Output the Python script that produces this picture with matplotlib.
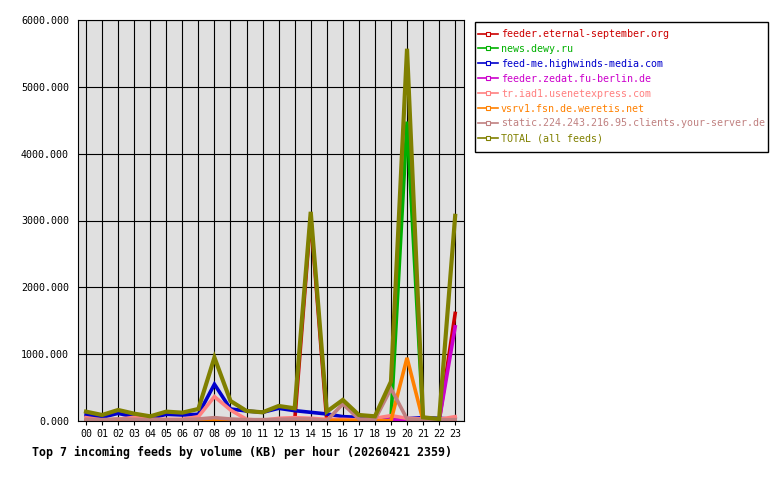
import matplotlib
matplotlib.use("Agg")
import matplotlib.pyplot as plt
from matplotlib.lines import Line2D
from matplotlib.patches import Rectangle

hours = ["00","01","02","03","04","05","06","07","08","09","10","11",
         "12","13","14","15","16","17","18","19","20","21","22","23"]

feeder_eternal = [0,0,0,0,0,0,0,0,0,0,0,0,0,0,3050,0,0,0,0,0,0,0,0,1610]
news_dewy = [0,0,0,0,0,0,0,0,0,0,0,0,0,0,0,0,0,0,0,30,4480,0,0,0]
feed_me = [90,55,115,60,40,100,90,100,550,180,150,130,190,155,130,105,65,55,40,25,35,50,40,25]
feeder_zedat = [0,0,0,0,0,0,0,0,0,0,0,0,0,0,0,0,0,0,0,20,0,0,0,1410]
tr_iad1 = [50,15,25,55,25,25,25,65,365,165,25,10,40,50,40,25,25,15,40,80,40,30,25,65]
vsrv1 = [5,5,5,5,5,5,5,10,20,5,5,5,5,5,5,10,10,5,5,5,945,5,5,5]
static_224 = [25,20,30,25,20,20,20,30,50,30,20,20,25,30,30,5,255,30,20,485,30,20,20,20]
total = [140,90,165,110,70,140,125,180,950,300,150,130,225,190,3130,140,315,90,70,590,5570,55,30,3070]

labels = ["feeder.eternal-september.org", "news.dewy.ru", "feed-me.highwinds-media.com",
          "feeder.zedat.fu-berlin.de", "tr.iad1.usenetexpress.com", "vsrv1.fsn.de.weretis.net",
          "static.224.243.216.95.clients.your-server.de", "TOTAL (all feeds)"]
series = [feeder_eternal, news_dewy, feed_me, feeder_zedat, tr_iad1, vsrv1, static_224, total]
colors = ["#cc0000", "#00b000", "#0000cc", "#cc00cc", "#ff8080", "#ff8000", "#c08080", "#808000"]

yticks = [0, 1000, 2000, 3000, 4000, 5000, 6000]

plt.rcParams['font.family'] = ['DejaVu Sans Mono']

fig = plt.figure(figsize=(7.8, 4.8), dpi=100)
ax = fig.add_axes([78/780, 1-421/480, (464-78)/780, (421-20)/480])
ax.set_facecolor("#e0e0e0")

x = list(range(len(hours)))
for s, c, l in zip(series, colors, labels):
    lw = 3.0 if l.startswith("TOTAL") else 2.6
    ax.plot(x, s, color=c, lw=lw, solid_joinstyle='miter', label=l)

ax.set_xlim(-0.5, 23.55)
ax.set_ylim(0, 6000)
ax.set_xticks(x)
ax.set_xticklabels(hours, fontsize=7.2)
ax.set_yticks(yticks)
ax.set_yticklabels([f"{v:.3f}" for v in yticks], fontsize=7.2)
ax.tick_params(axis='y', length=0, pad=6.5)
ax.tick_params(axis='x', length=3, width=0.8, pad=3, direction='out')
ax.grid(True, color='black', lw=0.8)
ax.set_axisbelow(True)
for sp in ax.spines.values():
    sp.set_color('black')
    sp.set_linewidth(0.8)

# legend frame drawn separately
fig.patches.append(Rectangle((475/780, 1-152/480), (768-475)/780, 130/480,
                             transform=fig.transFigure, facecolor='white',
                             edgecolor='black', lw=1, zorder=0))

handles = [Line2D([0], [0], color=c, lw=1.2, marker='s', markersize=2.5,
                  markerfacecolor='white', markeredgecolor=c, markeredgewidth=0.8)
           for c in colors]
leg = fig.legend(handles, labels, loc='upper left',
                 bbox_to_anchor=(477/780, 1-28/480), bbox_transform=fig.transFigure,
                 borderaxespad=0, frameon=False,
                 prop={'size': 7.2}, labelcolor=colors, handlelength=2.0,
                 handletextpad=0.3, labelspacing=0.49, borderpad=0.1)

fig.text(32/780, 1-452/480, "Top 7 incoming feeds by volume (KB) per hour (20260421 2359)",
         fontsize=8.4, fontweight='bold', ha='left', va='center')

fig.savefig("out.png", dpi=100)
